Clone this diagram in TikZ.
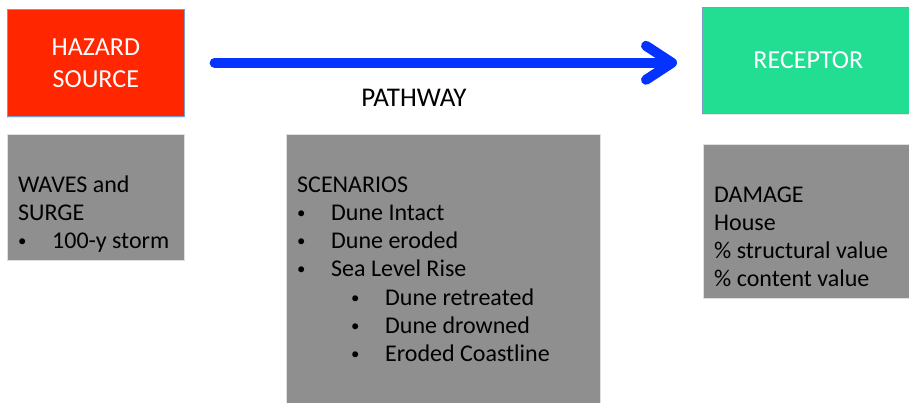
\documentclass[tikz,border=0pt]{standalone}
\usepackage{fontspec}
\setmainfont{Carlito}
\usetikzlibrary{arrows.meta,positioning,shadows}
\definecolor{cRed}{RGB}{255,38,0}
\definecolor{cGreen}{RGB}{34,222,146}
\definecolor{cGray}{RGB}{143,143,143}
\definecolor{cBlue}{RGB}{4,50,255}
\definecolor{cEdge}{RGB}{125,155,200}
\tikzset{
  basebox/.style={rectangle,inner sep=0pt,anchor=north west},
  headnode/.style={basebox,draw=cEdge,line width=0.6pt,text=white,align=center,
                   font=\fontsize{26}{32}\selectfont,
                   drop shadow={opacity=0.2,shadow xshift=0pt,shadow yshift=-1.5pt}},
  hazardnode/.style={headnode,fill=cRed},
  receptnode/.style={headnode,fill=cGreen},
  infonode/.style={basebox,fill=cGray,draw=gray!25,line width=0.5pt},
  infotext/.style={anchor=north west,inner sep=0pt,align=left,
                   font=\fontsize{24}{28.3}\selectfont},
  pathlabel/.style={inner sep=0pt,font=\fontsize{27}{30}\selectfont},
  thkarr/.style={-{Straight Barb[length=26pt,width=34pt,round]},
                 line width=10pt,color=cBlue,line cap=round}
}
\newcommand{\itm}[1]{\makebox[34pt][l]{\raisebox{2pt}{\scalebox{0.7}{\textbullet}}}#1}
\newcommand{\subitm}[1]{\hspace*{54pt}\itm{#1}}

\begin{document}
\begin{tikzpicture}[x=1pt,y=-1pt]
  \useasboundingbox (0,0) rectangle (909,403);

  % top row
  \node[hazardnode,minimum width=177pt,minimum height=107pt] (src) at (7,9)
      {HAZARD\\SOURCE};
  \node[receptnode,minimum width=212pt,minimum height=106pt] (rec) at (702,7)
      {RECEPTOR};
  \draw[thkarr,shorten <=30pt,shorten >=25pt] (src.east) -- (src.east -| rec.west);
  \node[pathlabel] (pwy) at (414,98) {PATHWAY};

  % info boxes
  \node[infonode,minimum width=177pt,minimum height=126pt] (wav) at (7,134) {};
  \node[infonode,minimum width=314pt,minimum height=280pt] (scn) at (286,134) {};
  \node[infonode,minimum width=210pt,minimum height=154pt] (dmg) at (703,144) {};

  \node[infotext,below right=38pt and 11pt of wav.north west] (wavtxt)
      {\strut WAVES and\\SURGE\\\itm{100-y storm}};
  \node[infotext,below right=38pt and 11pt of scn.north west] (scntxt)
      {\strut SCENARIOS\\\itm{Dune Intact}\\\itm{Dune eroded}\\\itm{Sea Level Rise}\\
       \subitm{Dune retreated}\\\subitm{Dune drowned}\\\subitm{Eroded Coastline}};
  \node[infotext,below right=38pt and 11pt of dmg.north west] (dmgtxt)
      {\strut DAMAGE\\House\\\% structural value\\\% content value};
\end{tikzpicture}
\end{document}
